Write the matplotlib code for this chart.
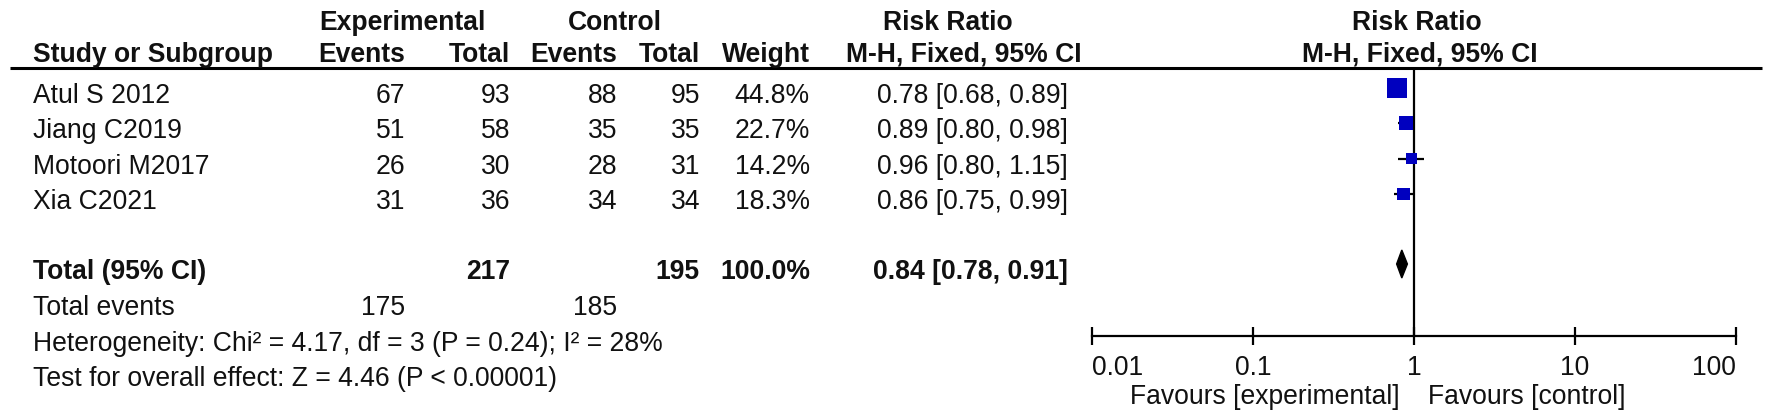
import matplotlib.pyplot as plt
import numpy as np

plt.rcParams['font.family'] = ['Liberation Sans', 'DejaVu Sans']

studies = ["Atul S 2012", "Jiang C2019", "Motoori M2017", "Xia C2021"]
exp_events = [67, 51, 26, 31]
exp_total = [93, 58, 30, 36]
ctrl_events = [88, 35, 28, 34]
ctrl_total = [95, 35, 31, 34]
weights = [44.8, 22.7, 14.2, 18.3]
rr = [0.78, 0.89, 0.96, 0.86]
ci_low = [0.68, 0.80, 0.80, 0.75]
ci_high = [0.89, 0.98, 1.15, 0.99]

pooled = [0.84, 0.78, 0.91]   # rr, low, high
total_exp, total_ctrl = 217, 195
total_exp_events, total_ctrl_events = 175, 185
heterogeneity = "Heterogeneity: Chi² = 4.17, df = 3 (P = 0.24); I² = 28%"
overall = "Test for overall effect: Z = 4.46 (P < 0.00001)"
tick_values = [0.01, 0.1, 1, 10, 100]
tick_labels = ["0.01", "0.1", "1", "10", "100"]

W, H = 1772, 420
FS = 19.1
BLUE = '#0000BF'

fig = plt.figure(figsize=(W / 100, H / 100), dpi=100)
tab = fig.add_axes([0, 0, 1, 1])
tab.set_xlim(0, W)
tab.set_ylim(H, 0)
tab.axis('off')

# column layout (pixels)
x_study = 33
x_ee, x_et, x_ce, x_ct, x_w, x_ci = 405, 510, 617, 700, 810, 1068
x_plot0, x_plot1 = 1092, 1736
rule_y = 68
axis_y = 336
row_y = [96 + 35.3 * i for i in range(len(studies))]
sq_off = -8
total_y = 272
info_y = [308, 344, 379]


def t(x, y, s, ha='left', bold=False):
    tab.text(x, y, s, ha=ha, va='center', fontsize=FS,
             fontweight='bold' if bold else 'normal', color='#111111')


# headers
t(402, 23, "Experimental", 'center', True)
t(615, 23, "Control", 'center', True)
t(948, 23, "Risk Ratio", 'center', True)
t(1417, 23, "Risk Ratio", 'center', True)
t(x_study, 55, "Study or Subgroup", 'left', True)
for x, s in [(x_ee, "Events"), (x_et, "Total"), (x_ce, "Events"),
             (x_ct, "Total"), (x_w, "Weight"), (1082, "M-H, Fixed, 95% CI")]:
    t(x, 55, s, 'right', True)
t(1420, 55, "M-H, Fixed, 95% CI", 'center', True)
tab.plot([10, 1762], [rule_y, rule_y], color='black', lw=2.2, solid_capstyle='butt')

# study rows
for i, name in enumerate(studies):
    y = row_y[i]
    t(x_study, y, name)
    t(x_ee, y, str(exp_events[i]), 'right')
    t(x_et, y, str(exp_total[i]), 'right')
    t(x_ce, y, str(ctrl_events[i]), 'right')
    t(x_ct, y, str(ctrl_total[i]), 'right')
    t(x_w, y, f"{weights[i]:.1f}%", 'right')
    t(x_ci, y, f"{rr[i]:.2f} [{ci_low[i]:.2f}, {ci_high[i]:.2f}]", 'right')

# total row
t(x_study, total_y, "Total (95% CI)", 'left', True)
t(x_et, total_y, str(total_exp), 'right', True)
t(x_ct, total_y, str(total_ctrl), 'right', True)
t(x_w, total_y, f"{sum(weights):.1f}%", 'right', True)
t(x_ci, total_y, f"{pooled[0]:.2f} [{pooled[1]:.2f}, {pooled[2]:.2f}]", 'right', True)
t(x_study, info_y[0], "Total events")
t(x_ee, info_y[0], str(total_exp_events), 'right')
t(x_ce, info_y[0], str(total_ctrl_events), 'right')
t(x_study, info_y[1], heterogeneity)
t(x_study, info_y[2], overall)

# forest plot
ax = fig.add_axes([x_plot0 / W, 0, (x_plot1 - x_plot0) / W, 1])
ax.set_xscale('log')
ax.set_xlim(0.01, 100)
ax.set_ylim(H, 0)
ax.patch.set_visible(False)
for side in ['left', 'right', 'top']:
    ax.spines[side].set_visible(False)
ax.spines['bottom'].set_position(('data', axis_y))
ax.spines['bottom'].set_linewidth(1.6)
ax.set_yticks([])
ax.set_xticks(tick_values, tick_labels)
ax.minorticks_off()
ax.tick_params(axis='x', direction='inout', length=13, width=1.6,
               labelsize=FS, pad=7, labelcolor='#111111')
lbls = ax.get_xticklabels()
lbls[0].set_ha('left')
lbls[-1].set_ha('right')

ax.vlines(1, rule_y, axis_y, color='black', lw=1.6)
sq_y = [y + sq_off for y in row_y]
ax.hlines(sq_y, ci_low, ci_high, color='black', lw=1.6)
side_px = 20 * np.sqrt(np.array(weights) / max(weights))
ax.scatter(rr, sq_y, marker='s', s=(side_px * 0.72) ** 2, color=BLUE,
           edgecolors='none', zorder=3)
dy = total_y - 8
ax.fill([pooled[1], pooled[0], pooled[2], pooled[0]], [dy, dy - 14, dy, dy + 14],
        color='black', zorder=3)

tab.text(1400, 397, "Favours [experimental]", ha='right', va='center', fontsize=FS, color='#111111')
tab.text(1428, 397, "Favours [control]", ha='left', va='center', fontsize=FS, color='#111111')

fig.savefig('out.png', dpi=100)
